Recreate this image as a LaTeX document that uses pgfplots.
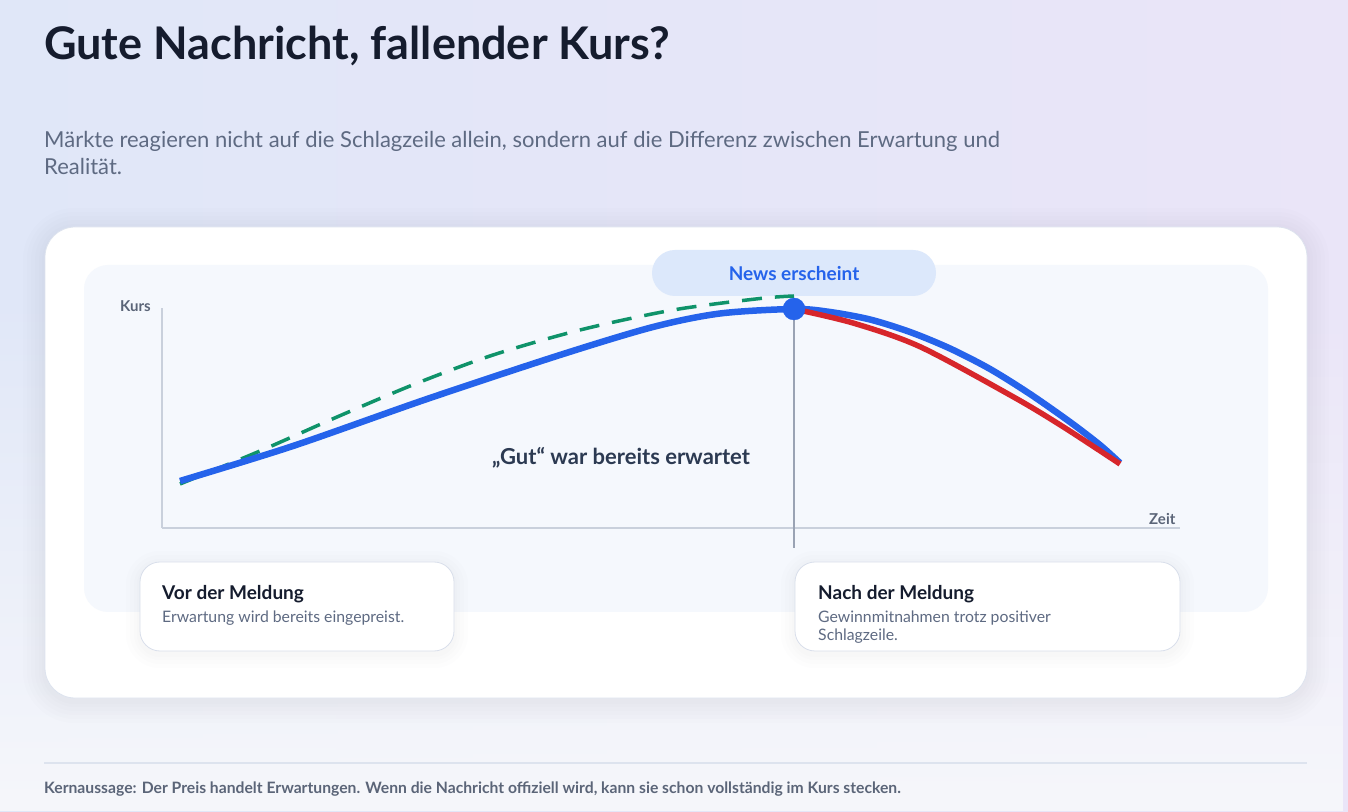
\documentclass[border=0pt]{standalone}
\usepackage{pgfplots}
\pgfplotsset{compat=1.18}
\usepackage{fontspec}
\setmainfont{Lato}
\usetikzlibrary{fadings}
\definecolor{bgL}{HTML}{E0E7F8}
\definecolor{bgM}{HTML}{F3F4FA}
\definecolor{bgR}{HTML}{EAE5F8}
\definecolor{bgB}{HTML}{F6F7FB}
\definecolor{titlec}{HTML}{151C2E}
\definecolor{subc}{HTML}{5E6A82}
\definecolor{panelc}{HTML}{F5F8FD}
\definecolor{pillc}{HTML}{DCE8FB}
\definecolor{blueL}{HTML}{2563EB}
\definecolor{redL}{HTML}{D7262B}
\definecolor{greenL}{HTML}{0F936A}
\definecolor{axisc}{HTML}{C9D0DC}
\definecolor{vlinec}{HTML}{9AA3B4}
\definecolor{labc}{HTML}{5B6578}
\definecolor{gutc}{HTML}{2C3A52}
\definecolor{cardb}{HTML}{D9DFEB}
\definecolor{sepc}{HTML}{DDE3EE}
\definecolor{shc}{HTML}{5A6590}
\begin{document}
\begin{tikzpicture}[x=1pt,y=1pt]
\path[use as bounding box] (0,0) rectangle (1348,811);
% background
\shade[left color=bgL, middle color=bgM, right color=bgR] (0,0) rectangle (1348,811);
\fill[bgB, path fading=north] (0,0) rectangle (1348,520);
% title & subtitle
\node[anchor=base west, inner sep=0, font=\fontsize{45}{52}\selectfont\bfseries, text=titlec] at (44,751) {Gute Nachricht, fallender Kurs?};
\node[anchor=base west, inner sep=0, font=\fontsize{22}{27}\selectfont, text=subc] at (44,663) {Märkte reagieren nicht auf die Schlagzeile allein, sondern auf die Differenz zwischen Erwartung und};
\node[anchor=base west, inner sep=0, font=\fontsize{22}{27}\selectfont, text=subc] at (44,636) {Realität.};
% card shadow
\foreach \s in {22,18,14,10,6,3}{
  \fill[shc, opacity=0.012, rounded corners=30+\s] (45-\s,113-\s-3) rectangle (1307+\s,584+\s-3);
}
\fill[white, draw=sepc, line width=0.8pt, rounded corners=30] (45,113) rectangle (1307,584);
% panel
\fill[panelc, rounded corners=24] (84,199) rectangle (1268,546);
% pill
\fill[pillc, rounded corners=23] (652,515) rectangle (936,561);
\node[font=\fontsize{19}{22}\selectfont\bfseries, text=blueL] at (794,537) {News erscheint};
% small cards
\foreach \s in {14,10,6,3}{
  \fill[shc, opacity=0.012, rounded corners=20+\s] (140-\s,160-\s-3) rectangle (454+\s,249+\s-3);
  \fill[shc, opacity=0.012, rounded corners=20+\s] (795-\s,160-\s-3) rectangle (1180+\s,249+\s-3);
}
\fill[white, draw=cardb, line width=0.8pt, rounded corners=20] (140,160) rectangle (454,249);
\fill[white, draw=cardb, line width=0.8pt, rounded corners=20] (795,160) rectangle (1180,249);
\node[anchor=base west, inner sep=0, font=\fontsize{19}{22}\selectfont\bfseries, text=titlec] at (162,211) {Vor der Meldung};
\node[anchor=base west, inner sep=0, font=\fontsize{15.8}{18}\selectfont, text=subc] at (162,188) {Erwartung wird bereits eingepreist.};
\node[anchor=base west, inner sep=0, font=\fontsize{19}{22}\selectfont\bfseries, text=titlec] at (818,211) {Nach der Meldung};
\node[anchor=base west, inner sep=0, font=\fontsize{15.8}{18}\selectfont, text=subc] at (818,188) {Gewinnmitnahmen trotz positiver};
\node[anchor=base west, inner sep=0, font=\fontsize{15.8}{18}\selectfont, text=subc] at (818,170) {Schlagzeile.};
% axis labels
\node[anchor=base west, inner sep=0, font=\fontsize{15}{18}\selectfont\bfseries, text=labc] at (120,499) {Kurs};
\node[anchor=base west, inner sep=0, font=\fontsize{15}{18}\selectfont\bfseries, text=labc] at (1149,286) {Zeit};
% chart
\begin{axis}[
  at={(162pt,283pt)}, anchor=south west,
  scale only axis, width=1018pt, height=220pt,
  xmin=162, xmax=1180, ymin=283, ymax=503,
  axis lines=left, axis line style={-, draw=axisc, line width=2pt},
  xtick=\empty, ytick=\empty,
  clip=false,
]
\addplot[vlinec, line width=1.5pt] coordinates {(794,263) (794,502)};
\addplot[greenL, line width=3.5pt, dash pattern=on 20pt off 13pt, smooth] coordinates {
(180,327) (260,360) (337,394) (415,427) (493,456) (580,481) (673,501) (760,512.5) (794,515)};
\addplot[blueL, line width=6.5pt, smooth] coordinates {
(180,330) (293,365) (427,412) (560,456) (653,484) (720,497.5) (794,502)
(830,499) (870,491.5) (910,479) (950,462.5) (990,442) (1030,417) (1070,389) (1100,366) (1120,348)};
\addplot[redL, line width=5.5pt, smooth] coordinates {
(794,502) (853,488) (920,464.3) (1013,414.3) (1063,384.3) (1120,347)};
\addplot[only marks, mark=*, mark size=11pt, blueL] coordinates {(794,502)};
\end{axis}
\node[font=\fontsize{22}{25}\selectfont\bfseries, text=gutc, anchor=base] at (621,346) {„Gut“ war bereits erwartet};
% separator & footer
\draw[sepc, line width=2pt] (44,48) -- (1307,48);
\node[anchor=base west, inner sep=0, font=\fontsize{15.7}{18}\selectfont\bfseries, text=labc] at (44,18) {Kernaussage: Der Preis handelt Erwartungen. Wenn die Nachricht offiziell wird, kann sie schon vollständig im Kurs stecken.};
\end{tikzpicture}
\end{document}
